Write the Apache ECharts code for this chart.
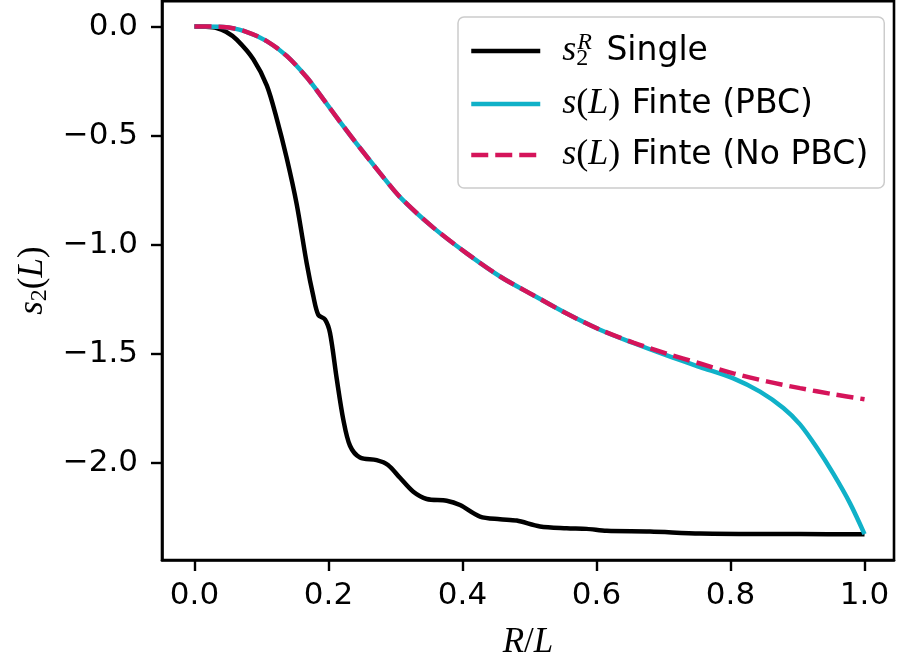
<!DOCTYPE html>
<html>
<head>
<meta charset="utf-8">
<script src="https://cdn.jsdelivr.net/npm/echarts@6/dist/echarts.min.js"></script>
<style>
html,body{margin:0;padding:0;background:#fff;}
#chart{width:898px;height:665px;}
</style>
</head>
<body>
<div id="chart"></div>
<script>
// ---- data ----
var singleX = [0, 0.0157, 0.033, 0.047, 0.063, 0.0878, 0.108, 0.1227, 0.1376, 0.1525, 0.1675, 0.1773, 0.1848, 0.1948, 0.2022, 0.2122, 0.2221, 0.2321, 0.247, 0.2719, 0.2888, 0.3067, 0.3266, 0.3466, 0.3764, 0.3963, 0.4261, 0.456, 0.4809, 0.5157, 0.5555, 0.5854, 0.6152, 0.6799, 0.7545, 0.9037, 1.0];
var singleY = [0, -0.001, -0.007, -0.024, -0.060, -0.150, -0.271, -0.422, -0.603, -0.814, -1.086, -1.236, -1.322, -1.343, -1.404, -1.613, -1.802, -1.922, -1.976, -1.988, -2.010, -2.069, -2.133, -2.166, -2.174, -2.194, -2.247, -2.259, -2.265, -2.292, -2.300, -2.303, -2.312, -2.315, -2.324, -2.327, -2.328];

var pbcX = [0, 0.043, 0.0754, 0.1078, 0.1376, 0.1675, 0.1922, 0.2172, 0.247, 0.2769, 0.3067, 0.3564, 0.4063, 0.456, 0.5057, 0.5555, 0.6052, 0.6549, 0.7048, 0.7545, 0.8042, 0.844, 0.8788, 0.9037, 0.9287, 0.9534, 0.9784, 1.0];
var pbcY = [0, -0.002, -0.022, -0.067, -0.135, -0.233, -0.333, -0.437, -0.557, -0.672, -0.782, -0.922, -1.040, -1.146, -1.232, -1.316, -1.390, -1.451, -1.508, -1.561, -1.613, -1.674, -1.749, -1.824, -1.930, -2.050, -2.186, -2.327];

var noPbcX = [0, 0.043, 0.0754, 0.1078, 0.1376, 0.1675, 0.1922, 0.2172, 0.247, 0.2769, 0.3067, 0.3564, 0.4063, 0.456, 0.5057, 0.5555, 0.6052, 0.6549, 0.7048, 0.7545, 0.8042, 0.854, 0.9037, 0.9534, 1.0];
var noPbcY = [0, -0.002, -0.022, -0.067, -0.135, -0.233, -0.333, -0.437, -0.557, -0.672, -0.782, -0.922, -1.040, -1.146, -1.232, -1.316, -1.390, -1.449, -1.500, -1.545, -1.590, -1.627, -1.658, -1.686, -1.709];

var xTicks = [0, 0.2, 0.4, 0.6, 0.8, 1.0];
var yTicks = [0, -0.5, -1.0, -1.5, -2.0];

function pairs(xs, ys) { return xs.map(function (x, i) { return [x, ys[i]]; }); }
function fmt(v) { var s = Math.abs(v).toFixed(1); return (v < -1e-9 ? '\u2212' : '') + s; }

var FONT = 'DejaVu Sans';
var MATH = 'Liberation Serif';
var FS = 31;
var LFS = 33;
var C_BLACK = '#000000', C_PBC = '#10b1c8', C_NOPBC = '#d5145a';
var LW = 4.5, DASH = [17, 7];
var SM = 0.3;

var chart = echarts.init(document.getElementById('chart'), null, { renderer: 'canvas' });
chart.setOption({
  animation: false,
  backgroundColor: '#ffffff',
  grid: { left: 162, right: 4, top: 1.3, bottom: 97.7, show: true, borderColor: '#000', borderWidth: 2.6, backgroundColor: 'transparent' },
  xAxis: {
    type: 'value', min: -0.0485, max: 1.044,
    splitLine: { show: false },
    axisLine: { show: true, onZero: false, lineStyle: { color: '#000', width: 2.6 } },
    axisTick: { show: true, length: 11, customValues: xTicks, lineStyle: { color: '#000', width: 2.4 } },
    axisLabel: { customValues: xTicks, formatter: fmt, margin: 20, color: '#000', fontFamily: FONT, fontSize: FS },
    name: '{i|R}{n|/}{i|L}', nameLocation: 'middle', nameGap: 65,
    nameTextStyle: { rich: { i: { fontFamily: MATH, fontStyle: 'italic', fontSize: 35, color: '#000' }, n: { fontFamily: MATH, fontSize: 35, color: '#000' } } }
  },
  yAxis: {
    type: 'value', min: -2.4457, max: 0.1154,
    splitLine: { show: false },
    axisLine: { show: true, onZero: false, lineStyle: { color: '#000', width: 2.6 } },
    axisTick: { show: true, length: 11, customValues: yTicks, lineStyle: { color: '#000', width: 2.4 } },
    axisLabel: { customValues: yTicks, formatter: fmt, margin: 24, color: '#000', fontFamily: FONT, fontSize: FS },
    name: '{i|s}{sub|2}{n|(}{i|L}{n|)}', nameLocation: 'middle', nameGap: 110,
    nameTextStyle: { rich: {
      i: { fontFamily: MATH, fontStyle: 'italic', fontSize: 35, color: '#000' },
      n: { fontFamily: MATH, fontSize: 35, color: '#000' },
      sub: { fontFamily: MATH, fontSize: 24, color: '#000', padding: [14, 0, 0, 0] }
    } }
  },
  legend: {
    orient: 'vertical', left: 458, top: 17,
    padding: [14, 16, 15, 11],
    itemWidth: 69, itemHeight: 14, itemGap: 15,
    backgroundColor: 'rgba(255,255,255,0.8)', borderColor: '#cccccc', borderWidth: 1.5, borderRadius: 6,
    data: [
      { name: 'single', itemStyle: { opacity: 0 }, lineStyle: { color: C_BLACK, width: LW, type: 'solid' } },
      { name: 'pbc', itemStyle: { opacity: 0 }, lineStyle: { color: C_PBC, width: LW, type: 'solid' } },
      { name: 'nopbc', itemStyle: { opacity: 0 }, lineStyle: { color: C_NOPBC, width: LW, type: DASH } }
    ],
    formatter: function (name) {
      if (name === 'single') return '{i|s}{sub|2}{sup|R}{t| Single}';
      if (name === 'pbc') return '{i|s}{n|(}{i|L}{n|)}{t| Finte (PBC)}';
      return '{i|s}{n|(}{i|L}{n|)}{t| Finte (No PBC)}';
    },
    textStyle: {
      padding: [0, 0, 0, 17], lineHeight: 36,
      rich: {
        i: { fontFamily: MATH, fontStyle: 'italic', fontSize: 36, color: '#000', lineHeight: 36 },
        n: { fontFamily: MATH, fontSize: 36, color: '#000', lineHeight: 36 },
        sub: { fontFamily: MATH, fontSize: 24, color: '#000', padding: [16, 0, 0, 0], width: 1 },
        sup: { fontFamily: MATH, fontStyle: 'italic', fontSize: 24, color: '#000', padding: [0, 3, 16, 0] },
        t: { fontFamily: FONT, fontSize: LFS, color: '#000', lineHeight: 36, padding: [0, 0, 0, 1] }
      }
    }
  },
  series: [
    { name: 'single', type: 'line', data: pairs(singleX, singleY), showSymbol: false, symbol: 'none', smooth: SM,
      lineStyle: { color: C_BLACK, width: LW }, itemStyle: { color: C_BLACK }, z: 2 },
    { name: 'pbc', type: 'line', data: pairs(pbcX, pbcY), showSymbol: false, symbol: 'none', smooth: SM,
      lineStyle: { color: C_PBC, width: LW }, itemStyle: { color: C_PBC }, z: 3 },
    { name: 'nopbc', type: 'line', data: pairs(noPbcX, noPbcY), showSymbol: false, symbol: 'none', smooth: SM,
      lineStyle: { color: C_NOPBC, width: LW, type: DASH }, itemStyle: { color: C_NOPBC }, z: 4 }
  ]
});
</script>
</body>
</html>
